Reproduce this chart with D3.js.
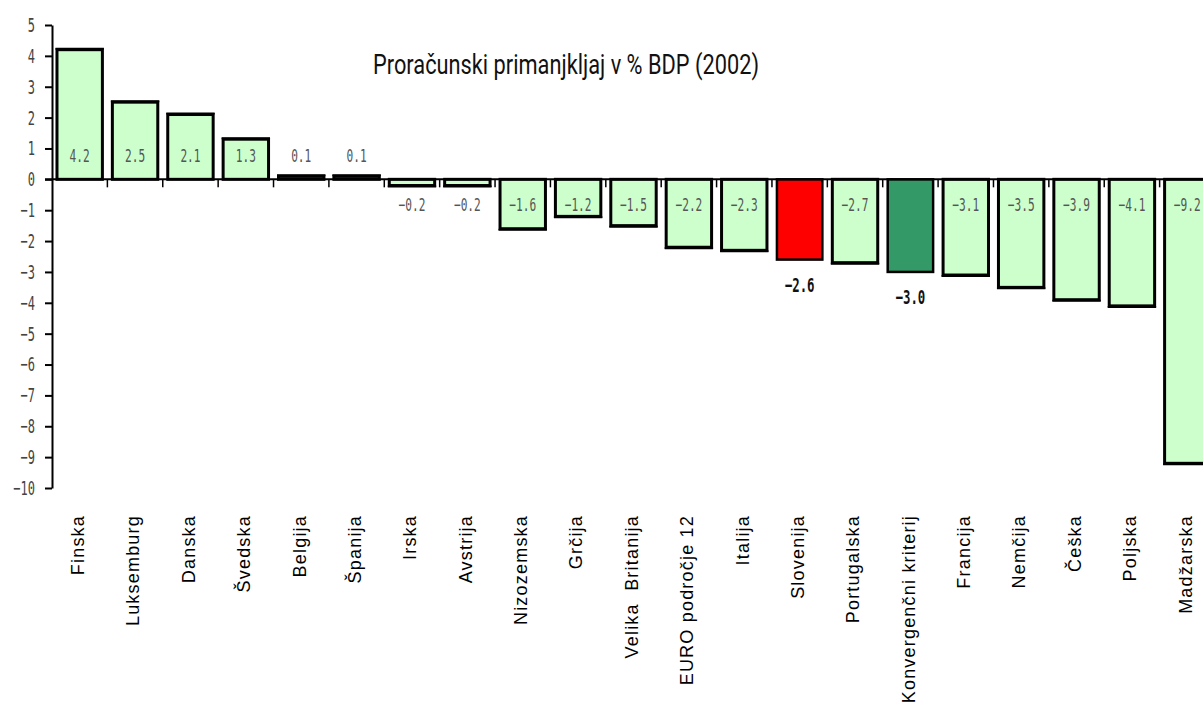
<!DOCTYPE html>
<html>
<head>
<meta charset="utf-8">
<script src="https://cdn.jsdelivr.net/npm/d3@7"></script>
<style>
  body { margin: 0; background: #fff; }
  svg { display: block; }
</style>
</head>
<body>
<svg id="chart" width="1203" height="720"></svg>
<script>
// Budget balance as % of GDP, 2002
const countries = [
  "Finska", "Luksemburg", "Danska", "Švedska", "Belgija", "Španija",
  "Irska", "Avstrija", "Nizozemska", "Grčija", "Velika  Britanija",
  "EURO področje 12", "Italija", "Slovenija", "Portugalska",
  "Konvergenčni kriterij", "Francija", "Nemčija", "Češka", "Poljska", "Madžarska"
];
const deficits = [
  4.2, 2.5, 2.1, 1.3, 0.1, 0.1,
  -0.2, -0.2, -1.6, -1.2, -1.5,
  -2.2, -2.3, -2.6, -2.7,
  -3.0, -3.1, -3.5, -3.9, -4.1, -9.2
];
const yTickValues = [5, 4, 3, 2, 1, 0, -1, -2, -3, -4, -5, -6, -7, -8, -9, -10];
const titleText = "Proračunski primanjkljaj v % BDP (2002)";

// bars with their own colour and a bold label under the bar
const special = new Map([["Slovenija", "#ff0000"], ["Konvergenčni kriterij", "#339966"]]);
const baseFill = "#ccffcc";

const data = countries.map((c, i) => ({ name: c, value: deficits[i] }));

const svg = d3.select("#chart");
const axisX = 52;

const x = d3.scaleBand()
  .domain(countries)
  .range([axisX, 1215])
  .paddingInner(0.18)
  .paddingOuter(0.09);

const y = d3.scaleLinear().domain([-10, 5]).range([488, 25]);
const y0 = y(0);
const step = x.step();

// title
svg.append("text")
  .attr("x", 373)
  .attr("y", 74)
  .attr("textLength", 386)
  .attr("lengthAdjust", "spacingAndGlyphs")
  .style("font-family", "Roboto, 'Liberation Sans', sans-serif")
  .style("font-size", "27px")
  .style("fill", "#111")
  .text(titleText);

// bars
const bars = svg.append("g");
bars.selectAll("rect")
  .data(data)
  .join("rect")
  .attr("x", d => x(d.name))
  .attr("width", x.bandwidth())
  .attr("y", d => Math.min(y(d.value), y0))
  .attr("height", d => Math.abs(y(d.value) - y0))
  .attr("fill", d => special.get(d.name) || baseFill)
  .attr("stroke", "#000")
  .attr("stroke-width", d => special.has(d.name) ? 2.5 : 3);

// heavier edge on the far end of each light bar
bars.selectAll("line")
  .data(data.filter(d => !special.has(d.name)))
  .join("line")
  .attr("x1", d => x(d.name) - 1.5)
  .attr("x2", d => x(d.name) + x.bandwidth() + 1.5)
  .attr("y1", d => y(d.value) + (d.value >= 0 ? -1 : 1))
  .attr("y2", d => y(d.value) + (d.value >= 0 ? -1 : 1))
  .attr("stroke", "#000")
  .attr("stroke-width", 2);

// y axis
const yAxis = svg.append("g")
  .attr("transform", `translate(${axisX},0)`)
  .call(d3.axisLeft(y).tickValues(yTickValues).tickSize(7).tickSizeOuter(0).tickFormat(d3.format("d")));
yAxis.select(".domain").attr("stroke", "#000").attr("stroke-width", 2);
yAxis.selectAll(".tick line").attr("stroke", "#000").attr("stroke-width", 2);
yAxis.selectAll(".tick text")
  .attr("x", -17 / 0.6)
  .attr("transform", "scale(0.6,1)")
  .style("font-family", "'DejaVu Sans Mono', monospace")
  .style("font-size", "20px")
  .style("fill", "#444");

// zero line with category ticks between bars
svg.append("line")
  .attr("x1", axisX - 7).attr("x2", 1203)
  .attr("y1", y0).attr("y2", y0)
  .attr("stroke", "#000").attr("stroke-width", 2);

svg.append("g").selectAll("line")
  .data(countries.slice(1))
  .join("line")
  .attr("x1", d => x(d) - step * 0.09)
  .attr("x2", d => x(d) - step * 0.09)
  .attr("y1", y0).attr("y2", y0 + 8)
  .attr("stroke", "#000").attr("stroke-width", 1.5);

// value labels
const fmt = d3.format(".1f");
const labels = svg.append("g");
labels.selectAll("text")
  .data(data)
  .join("text")
  .attr("transform", d => {
    const cx = x(d.name) + x.bandwidth() / 2;
    let ly;
    if (special.has(d.name)) ly = y(d.value) + 32;
    else ly = d.value >= 0 ? y0 - 17 : y0 + 32;
    return `translate(${cx},${ly}) scale(0.62,1)`;
  })
  .attr("text-anchor", "middle")
  .style("font-family", "'DejaVu Sans Mono', monospace")
  .style("font-size", d => special.has(d.name) ? "20px" : "18px")
  .style("font-weight", d => special.has(d.name) ? "bold" : "normal")
  .style("fill", d => special.has(d.name) ? "#111" : "#555")
  .text(d => fmt(d.value));

// category labels, rotated
svg.append("g").selectAll("text")
  .data(countries)
  .join("text")
  .attr("transform", d => `translate(${x(d) + x.bandwidth() / 2 - 2},515) rotate(-90)`)
  .attr("text-anchor", "end")
  .attr("dy", "0.35em")
  .style("font-family", "'Liberation Sans', Arial, sans-serif")
  .style("font-size", "18px")
  .style("letter-spacing", "1.2px")
  .style("white-space", "pre")
  .style("fill", "#000")
  .text(d => d);
</script>
</body>
</html>
